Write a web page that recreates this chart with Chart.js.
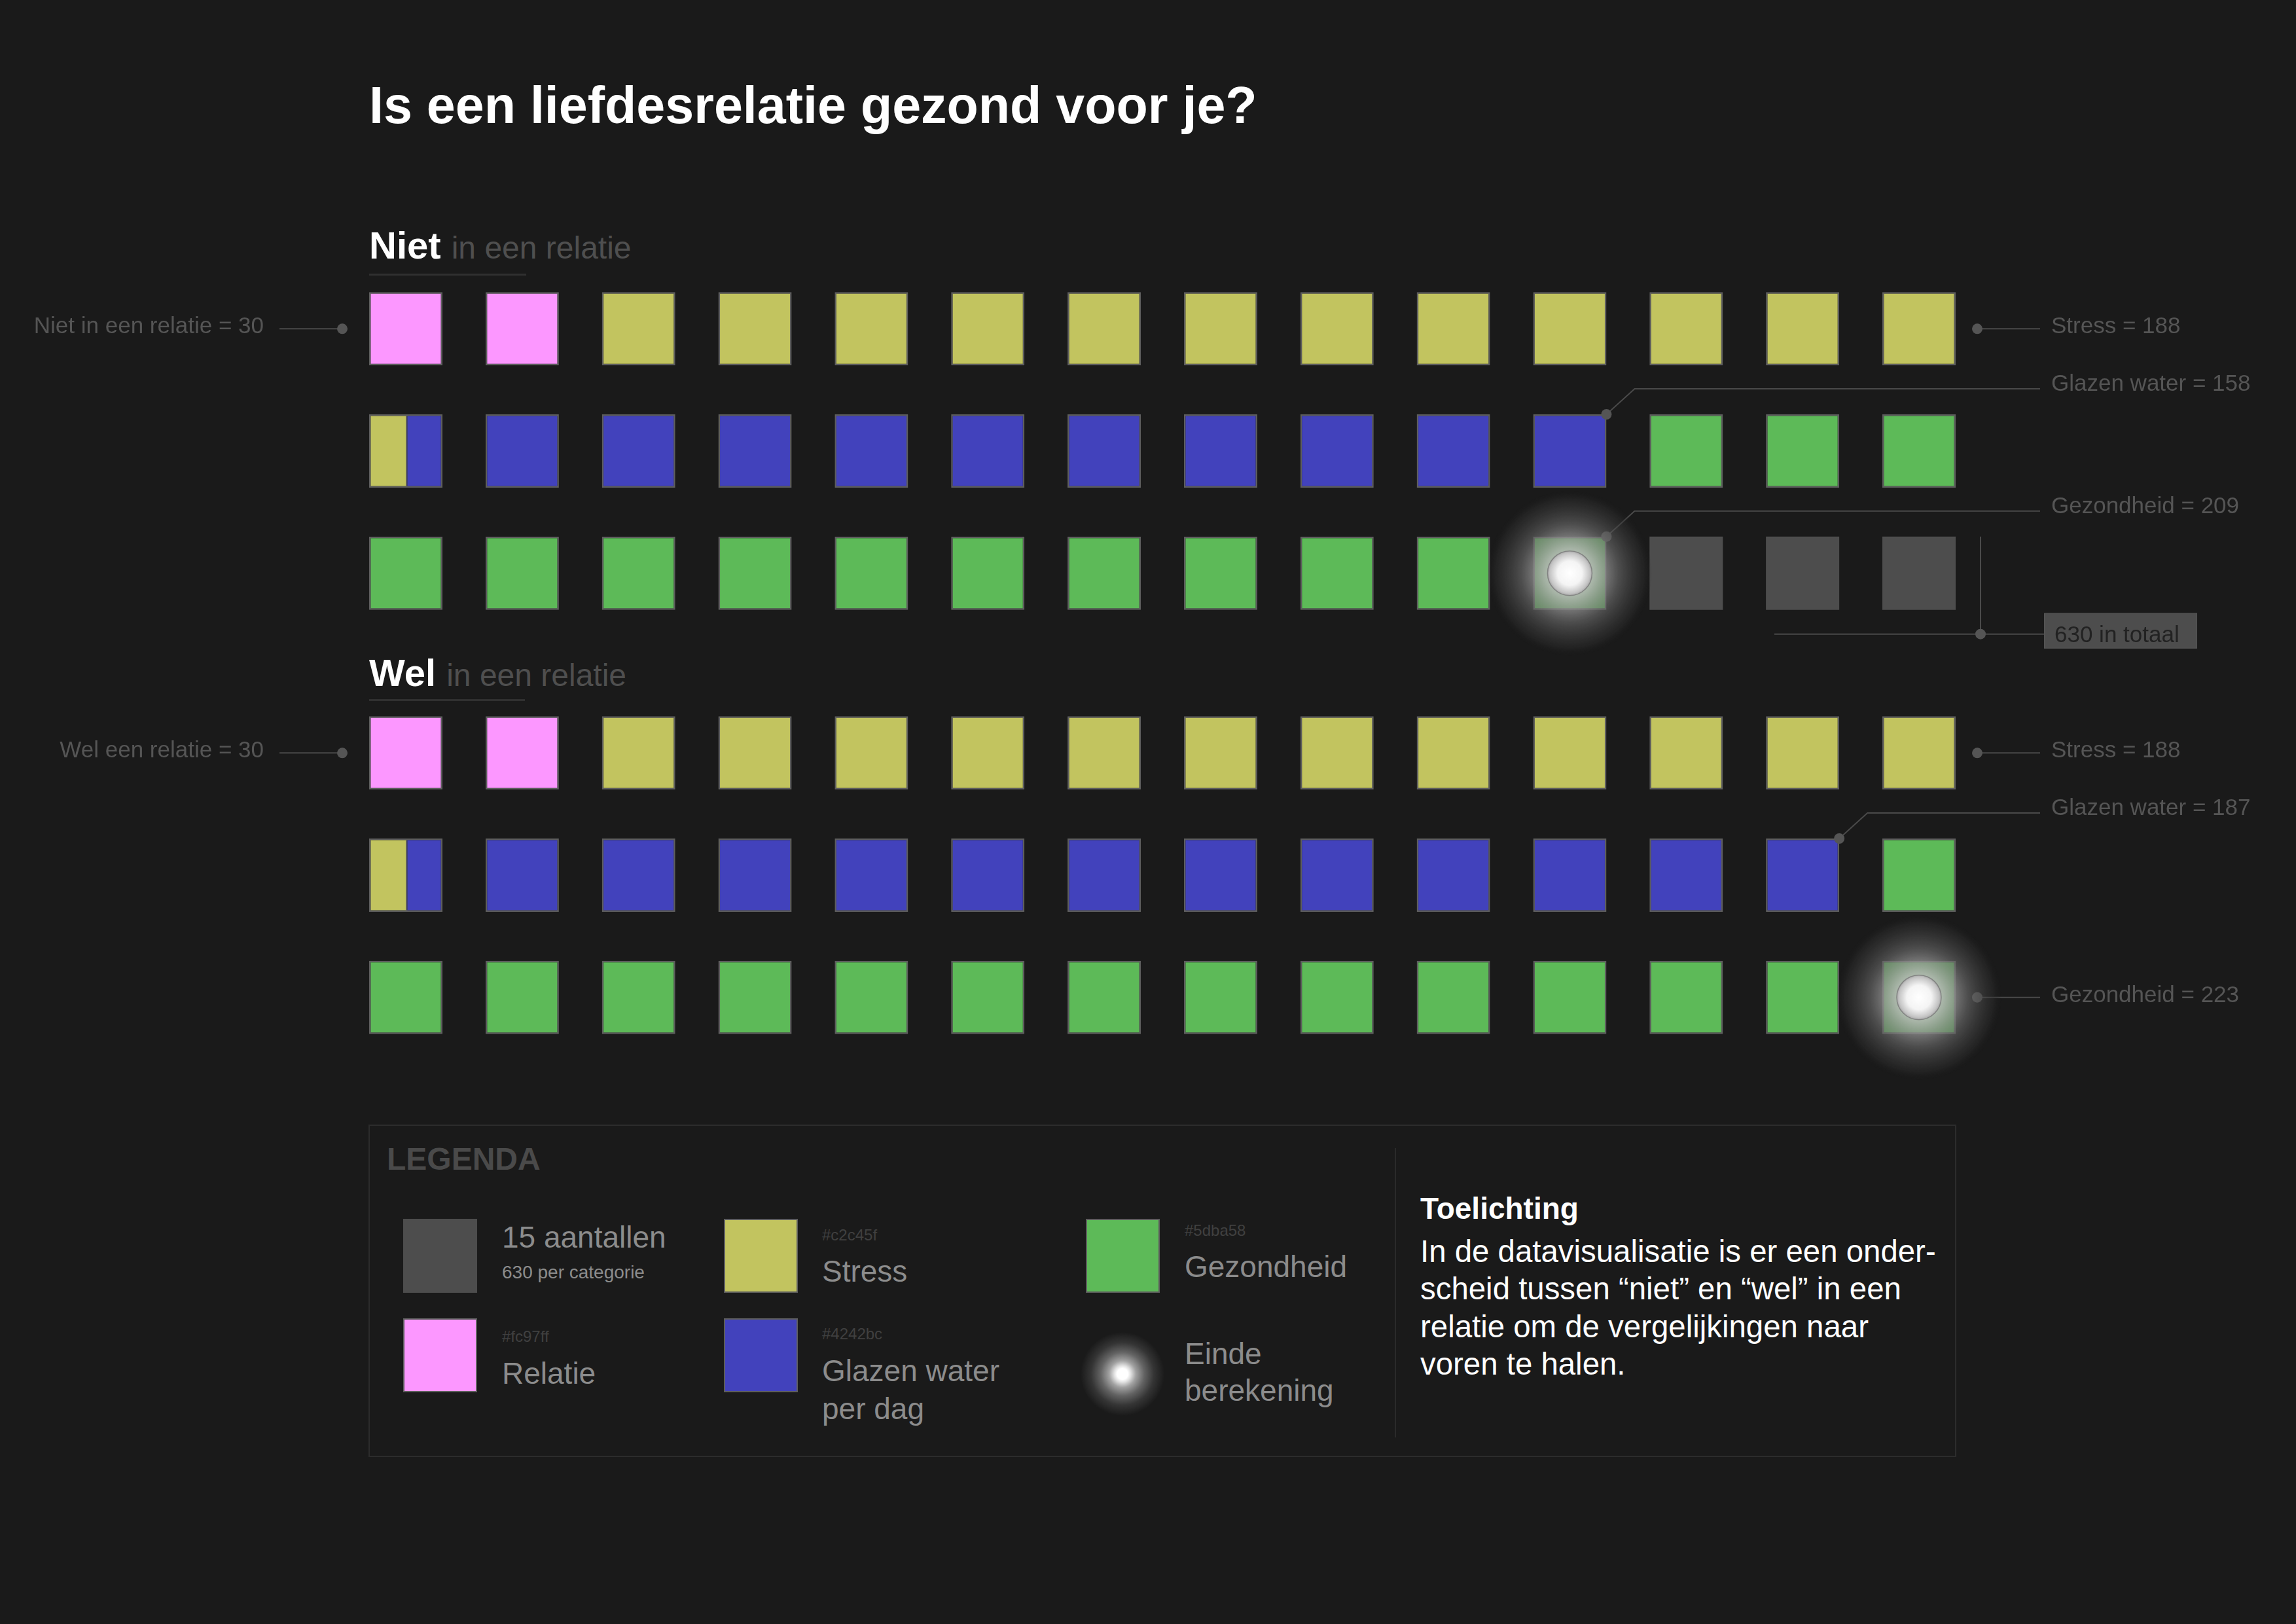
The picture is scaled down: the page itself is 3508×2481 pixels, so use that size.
<!DOCTYPE html>
<html lang="nl">
<head>
<meta charset="utf-8">
<title>Is een liefdesrelatie gezond voor je?</title>
<script src="https://cdn.jsdelivr.net/npm/chart.js@4.4.1/dist/chart.umd.min.js"></script>
<style>
  html, body { margin: 0; padding: 0; background: #1a1a1a; }
  body { width: 3508px; height: 2481px; position: relative; overflow: hidden;
         font-family: "Liberation Sans", Arial, Helvetica, sans-serif; }
  .t { position: absolute; white-space: nowrap; line-height: 1; }
  canvas { position: absolute; left: 0; }
  .sw { position: absolute; width: 113px; height: 113px; box-sizing: border-box; border: 2.5px solid #5e5e5e; }
</style>
</head>
<body>

<div class="t" style="left:564px;top:121px;font-size:79px;font-weight:bold;color:#fff;">Is een liefdesrelatie gezond voor je?</div>

<div class="t" style="left:564px;top:346px;font-size:58px;color:#4f4f4f;"><b style="color:#fff">Niet</b> <span style="font-size:48px">in een relatie</span></div>
<div style="position:absolute;left:564px;top:418px;width:240px;height:3px;background:#303030;"></div>

<div class="t" style="left:564px;top:999px;font-size:58px;color:#4f4f4f;"><b style="color:#fff">Wel</b> <span style="font-size:48px">in een relatie</span></div>
<div style="position:absolute;left:564px;top:1068px;width:238px;height:3px;background:#303030;"></div>

<canvas id="niet" width="3508" height="680" style="top:349px"></canvas>
<canvas id="wel" width="3508" height="680" style="top:997px"></canvas>

<!-- Legenda -->
<div style="position:absolute;left:563px;top:1718px;width:2426px;height:508px;box-sizing:border-box;border:2px solid #2c2c2c;"></div>
<div class="t" style="left:591px;top:1747px;font-size:48px;font-weight:bold;color:#4a4a4a;">LEGENDA</div>

<div class="sw" style="left:616px;top:1862px;background:#4d4d4d;border:none;"></div>
<div class="t" style="left:767px;top:1867px;font-size:46px;color:#8c8c8c;">15 aantallen</div>
<div class="t" style="left:767px;top:1930px;font-size:28px;color:#8c8c8c;">630 per categorie</div>

<div class="sw" style="left:616px;top:2014px;background:#fc97ff;"></div>
<div class="t" style="left:767px;top:2030px;font-size:24px;color:#404040;">#fc97ff</div>
<div class="t" style="left:767px;top:2075px;font-size:46px;color:#8c8c8c;">Relatie</div>

<div class="sw" style="left:1106px;top:1862px;background:#c2c45f;"></div>
<div class="t" style="left:1256px;top:1875px;font-size:24px;color:#404040;">#c2c45f</div>
<div class="t" style="left:1256px;top:1919px;font-size:46px;color:#8c8c8c;">Stress</div>

<div class="sw" style="left:1106px;top:2014px;background:#4242bc;"></div>
<div class="t" style="left:1256px;top:2026px;font-size:24px;color:#404040;">#4242bc</div>
<div class="t" style="left:1256px;top:2065px;font-size:46px;line-height:58px;color:#8c8c8c;">Glazen water<br>per dag</div>

<div class="sw" style="left:1659px;top:1862px;background:#5dba58;"></div>
<div class="t" style="left:1810px;top:1868px;font-size:24px;color:#404040;">#5dba58</div>
<div class="t" style="left:1810px;top:1912px;font-size:46px;color:#8c8c8c;">Gezondheid</div>

<div style="position:absolute;left:1651px;top:2035px;width:128px;height:128px;border-radius:50%;
  background:radial-gradient(circle closest-side, #ffffff 0%, #ffffff 13%, #e0e0e0 20%, rgba(175,175,175,0.9) 32%, rgba(130,130,130,0.7) 52%, rgba(85,85,85,0.45) 75%, rgba(26,26,26,0) 100%);"></div>
<div class="t" style="left:1810px;top:2040px;font-size:46px;line-height:56px;color:#8c8c8c;">Einde<br>berekening</div>

<div style="position:absolute;left:2131px;top:1754px;width:2px;height:442px;background:#2a2a2a;"></div>
<div class="t" style="left:2170px;top:1823px;font-size:46px;font-weight:bold;color:#fff;">Toelichting</div>
<div class="t" style="left:2170px;top:1883px;font-size:47.4px;line-height:57.3px;color:#fff;">In de datavisualisatie is er een onder-<br>scheid tussen “niet” en “wel” in een<br>relatie om de vergelijkingen naar<br>voren te halen.</div>

<script>
// ---------------- DATA ----------------
const categories = ['Relatie', 'Stress', 'Glazen water', 'Gezondheid'];
const nietValues = [30, 188, 158, 209];
const welValues  = [30, 188, 187, 223];
const leftLabels = ['Niet in een relatie', 'Wel een relatie'];
const totalPerGroup = 630;
const unitPerCell = 15;
const columnsPerRow = 14;
const rowLabels = ['Rij 1', 'Rij 2', 'Rij 3'];

// ---------------- STYLE ----------------
const categoryColors = ['#fc97ff', '#c2c45f', '#4242bc', '#5dba58'];
const restColor = '#4d4d4d';
const CELL_FILL = 0.63;      // share of a column pitch covered by a cell
const CELL_PX = 112;         // bar thickness in pixels
const NOTE_FONT = '35px "Liberation Sans", Arial, sans-serif';
const NOTE_COLOR = '#555555';
const LINE_COLOR = '#4a4a4a';

// cumulative boundaries in cells, rounded to half a cell
function cellBounds(values) {
  const cellsTotal = totalPerGroup / unitPerCell;
  const bounds = [0];
  let cum = 0;
  values.forEach(v => { cum += v / unitPerCell; bounds.push(Math.min(cellsTotal, Math.round(cum * 2) / 2)); });
  bounds.push(cellsTotal);
  return bounds;
}

function buildDatasets(values) {
  const bounds = cellBounds(values);
  const names = categories.concat(['Rest']);
  const colors = categoryColors.concat([restColor]);
  return names.map((name, c) => {
    const data = [];
    const a = bounds[c], b = bounds[c + 1];
    for (let k = Math.floor(a); k < Math.ceil(b); k++) {
      const s = Math.max(a, k) - k, e = Math.min(b, k + 1) - k;
      if (e <= s) continue;
      const col = k % columnsPerRow, row = Math.floor(k / columnsPerRow);
      data.push({ x: [col + s * CELL_FILL, col + e * CELL_FILL], y: rowLabels[row], openRight: e < 1 });
    }
    const isRest = c === categories.length;
    return {
      label: name, data,
      backgroundColor: colors[c],
      borderColor: isRest ? restColor : '#5e5e5e',
      borderWidth: isRest ? 0 : 2.5,
      borderSkipped: ctx => (ctx.raw && ctx.raw.openRight) ? 'right' : false,
      inflateAmount: 0,
      grouped: false,
      barThickness: CELL_PX
    };
  });
}

const notesPlugin = {
  id: 'waffleNotes',
  afterDatasetsDraw(chart, args, opts) {
    const ctx = chart.ctx;
    const xs = chart.scales.x, ys = chart.scales.y, area = chart.chartArea;
    const values = opts.values;
    const bounds = cellBounds(values);
    const half = CELL_PX / 2;
    const rowY = r => ys.getPixelForValue(r);
    const dot = (x, y) => { ctx.beginPath(); ctx.arc(x, y, 8, 0, Math.PI * 2); ctx.fillStyle = NOTE_COLOR; ctx.fill(); };
    const line = pts => { ctx.beginPath(); ctx.moveTo(pts[0][0], pts[0][1]); pts.slice(1).forEach(p => ctx.lineTo(p[0], p[1])); ctx.strokeStyle = LINE_COLOR; ctx.lineWidth = 2; ctx.stroke(); };
    const text = (s, x, y, align) => { ctx.font = NOTE_FONT; ctx.fillStyle = NOTE_COLOR; ctx.textAlign = align; ctx.textBaseline = 'alphabetic'; ctx.fillText(s, x, y); };

    ctx.save();
    // left label: first category
    const y0 = rowY(0);
    line([[area.left - 137, y0], [area.left - 41, y0]]);
    dot(area.left - 41, y0);
    text(opts.leftLabel + ' = ' + values[0], area.left - 161, y0 + 7, 'right');

    // right labels
    const lineEnd = area.right + 129, textX = area.right + 146;
    for (let i = 1; i < categories.length; i++) {
      const lastFull = Math.floor(bounds[i + 1]) - 1;
      const row = Math.floor(lastFull / columnsPerRow), col = lastFull % columnsPerRow;
      const label = categories[i] + ' = ' + values[i];
      if (col === columnsPerRow - 1) {
        const y = rowY(row);
        line([[area.right + 33, y], [lineEnd, y]]);
        dot(area.right + 33, y);
        text(label, textX, y + 7, 'left');
      } else {
        const dx = xs.getPixelForValue(col + CELL_FILL), dy = rowY(row) - half;
        const ly = dy - 39;
        line([[dx, dy], [dx + 43, ly], [lineEnd, ly]]);
        dot(dx, dy);
        text(label, textX, ly + 3, 'left');
      }
    }

    // total bracket when cells remain unused
    const cellsTotal = totalPerGroup / unitPerCell;
    const used = bounds[categories.length];
    if (used < cellsTotal) {
      const restRow = Math.floor(used / columnsPerRow);
      const vx = area.right + 38;
      const top = rowY(restRow) - half;
      const by = rowY(restRow) + half + 37;
      line([[vx, top], [vx, by]]);
      line([[area.right - 277, by], [area.right + 135, by]]);
      dot(vx, by);
      ctx.fillStyle = '#4d4d4d';
      ctx.fillRect(area.right + 135, by - 32, 234, 54);
      ctx.strokeStyle = '#555555'; ctx.lineWidth = 1;
      ctx.strokeRect(area.right + 135.5, by - 31.5, 233, 53);
      ctx.font = NOTE_FONT; ctx.fillStyle = '#222222'; ctx.textAlign = 'left'; ctx.textBaseline = 'alphabetic';
      ctx.fillText(totalPerGroup + ' in totaal', area.right + 151, by + 12);
    }

    // glow: end of calculation on the last filled cell
    const endCell = Math.ceil(used) - 1;
    const gRow = Math.floor(endCell / columnsPerRow), gCol = endCell % columnsPerRow;
    const gx = (xs.getPixelForValue(gCol) + xs.getPixelForValue(gCol + CELL_FILL)) / 2;
    const gy = rowY(gRow);
    const R = 126;
    let g = ctx.createRadialGradient(gx, gy, 0, gx, gy, R);
    g.addColorStop(0, 'rgba(225,225,225,0.95)');
    g.addColorStop(0.3, 'rgba(178,178,178,0.86)');
    g.addColorStop(0.45, 'rgba(142,142,142,0.76)');
    g.addColorStop(0.6, 'rgba(108,108,108,0.62)');
    g.addColorStop(0.75, 'rgba(78,78,78,0.52)');
    g.addColorStop(0.9, 'rgba(48,48,48,0.42)');
    g.addColorStop(1, 'rgba(30,30,30,0)');
    ctx.fillStyle = g;
    ctx.beginPath(); ctx.arc(gx, gy, R, 0, Math.PI * 2); ctx.fill();
    const r = 34;
    g = ctx.createRadialGradient(gx, gy, 0, gx, gy, r);
    g.addColorStop(0, '#ffffff');
    g.addColorStop(0.55, '#f4f4f4');
    g.addColorStop(0.9, '#c4c4c4');
    g.addColorStop(1, '#a8a8a8');
    ctx.fillStyle = g;
    ctx.beginPath(); ctx.arc(gx, gy, r, 0, Math.PI * 2); ctx.fill();
    ctx.strokeStyle = 'rgba(120,120,120,0.8)'; ctx.lineWidth = 1.5; ctx.stroke();
    ctx.restore();
  }
};

function makeChart(id, values, leftLabel) {
  return new Chart(document.getElementById(id), {
    type: 'bar',
    data: { labels: rowLabels, datasets: buildDatasets(values) },
    plugins: [notesPlugin],
    options: {
      indexAxis: 'y',
      responsive: false,
      animation: false,
      devicePixelRatio: 1,
      layout: { padding: { left: 564, right: 520, top: 60, bottom: 60 } },
      scales: {
        x: { type: 'linear', min: 0, max: columnsPerRow - 1 + CELL_FILL, display: false },
        y: { type: 'category', display: false, offset: true }
      },
      plugins: {
        legend: { display: false },
        tooltip: { enabled: false },
        waffleNotes: { values, leftLabel }
      }
    }
  });
}

makeChart('niet', nietValues, leftLabels[0]);
makeChart('wel', welValues, leftLabels[1]);
</script>
</body>
</html>
